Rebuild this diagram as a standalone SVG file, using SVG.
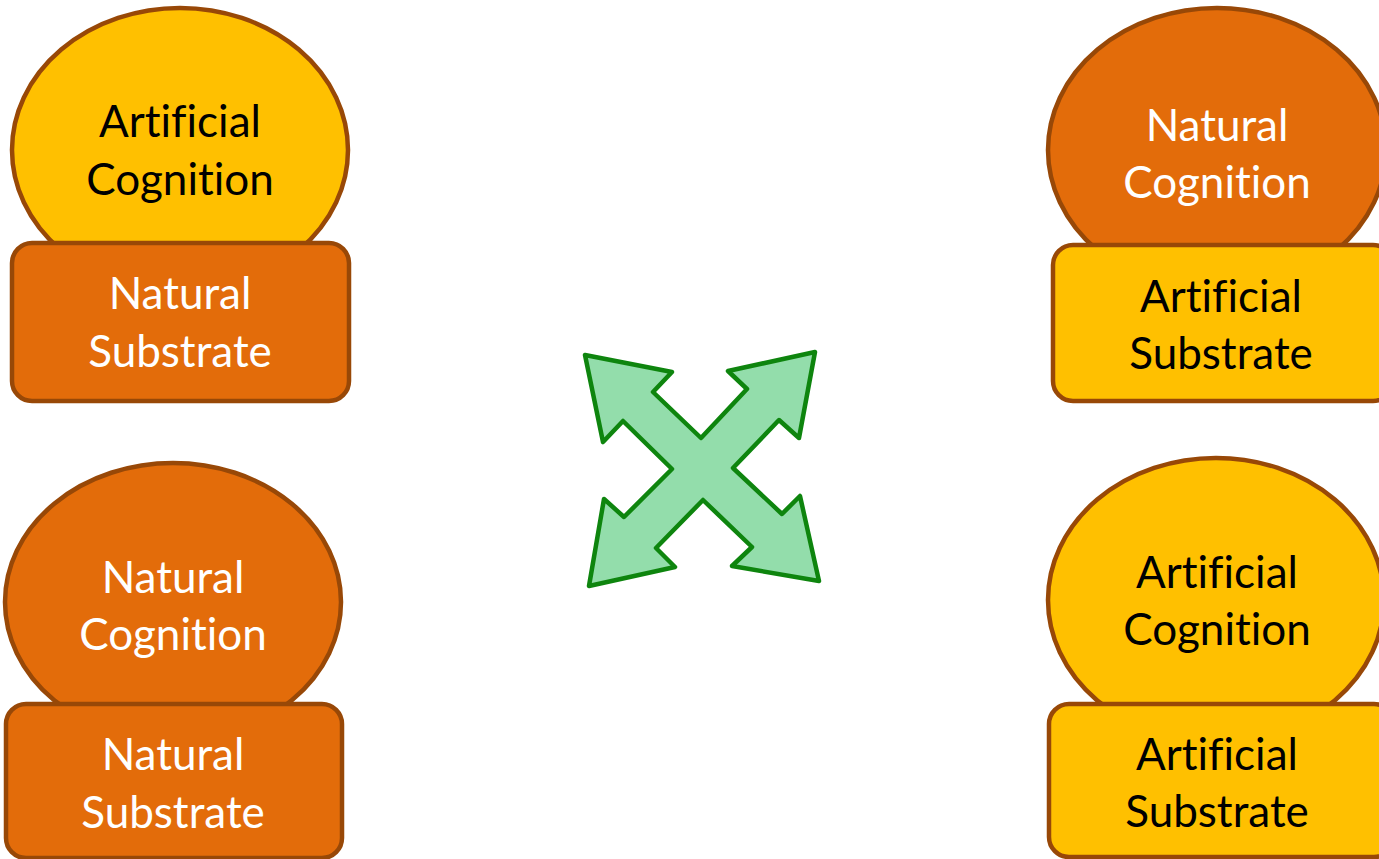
<svg xmlns="http://www.w3.org/2000/svg" width="1379" height="859" viewBox="0 0 1379 859">
<style>
.y{fill:#FFC000;stroke:#984807;stroke-width:4.5}
.o{fill:#E36C0A;stroke:#984807;stroke-width:4.5}
text{font-family:"Lato","Open Sans",sans-serif;font-size:44px;text-anchor:middle;font-variant-ligatures:none}
.dk{fill:#000}
.wt{fill:#fff}
</style>
<rect width="1379" height="859" fill="#fff"/>
<g id="node-tl">
<ellipse class="y" cx="180" cy="150" rx="168" ry="142"/>
<rect class="o" x="12" y="243" width="337" height="158" rx="20"/>
<text class="dk" x="180" y="137">Artificial</text>
<text class="dk" x="180" y="195">Cognition</text>
<text class="wt" x="180" y="309">Natural</text>
<text class="wt" x="180" y="367">Substrate</text>
</g>
<g id="node-bl">
<ellipse class="o" cx="173" cy="602" rx="168" ry="139"/>
<rect class="o" x="6" y="704" width="336" height="154" rx="20"/>
<text class="wt" x="173" y="593">Natural</text>
<text class="wt" x="173" y="650">Cognition</text>
<text class="wt" x="173" y="770">Natural</text>
<text class="wt" x="173" y="828">Substrate</text>
</g>
<g id="node-tr">
<ellipse class="o" cx="1217" cy="150" rx="169" ry="142"/>
<rect class="y" x="1053" y="245" width="340" height="156" rx="20"/>
<text class="wt" x="1217" y="141">Natural</text>
<text class="wt" x="1217" y="198">Cognition</text>
<text class="dk" x="1221" y="312">Artificial</text>
<text class="dk" x="1221" y="369">Substrate</text>
</g>
<g id="node-br">
<ellipse class="y" cx="1216" cy="600" rx="168" ry="142"/>
<rect class="y" x="1049" y="704" width="345" height="153" rx="20"/>
<text class="dk" x="1217" y="588">Artificial</text>
<text class="dk" x="1217" y="645">Cognition</text>
<text class="dk" x="1217" y="770">Artificial</text>
<text class="dk" x="1217" y="827">Substrate</text>
</g>
<g id="connectors">
<g id="quad-arrow">
<polygon fill="#93DDAB" stroke="#0E850E" stroke-width="4.5" stroke-linejoin="round" points="585,355 672,372 653,392 701,438 747,389 728,371 815,352 799,438 779,420 733,468 782,514 800,496 819,581 732,566 752,547 703,500 656,548 675,567 589,586 604,499 624,517 672,469 623,421 603,442"/>
</g>
</g>
</svg>
